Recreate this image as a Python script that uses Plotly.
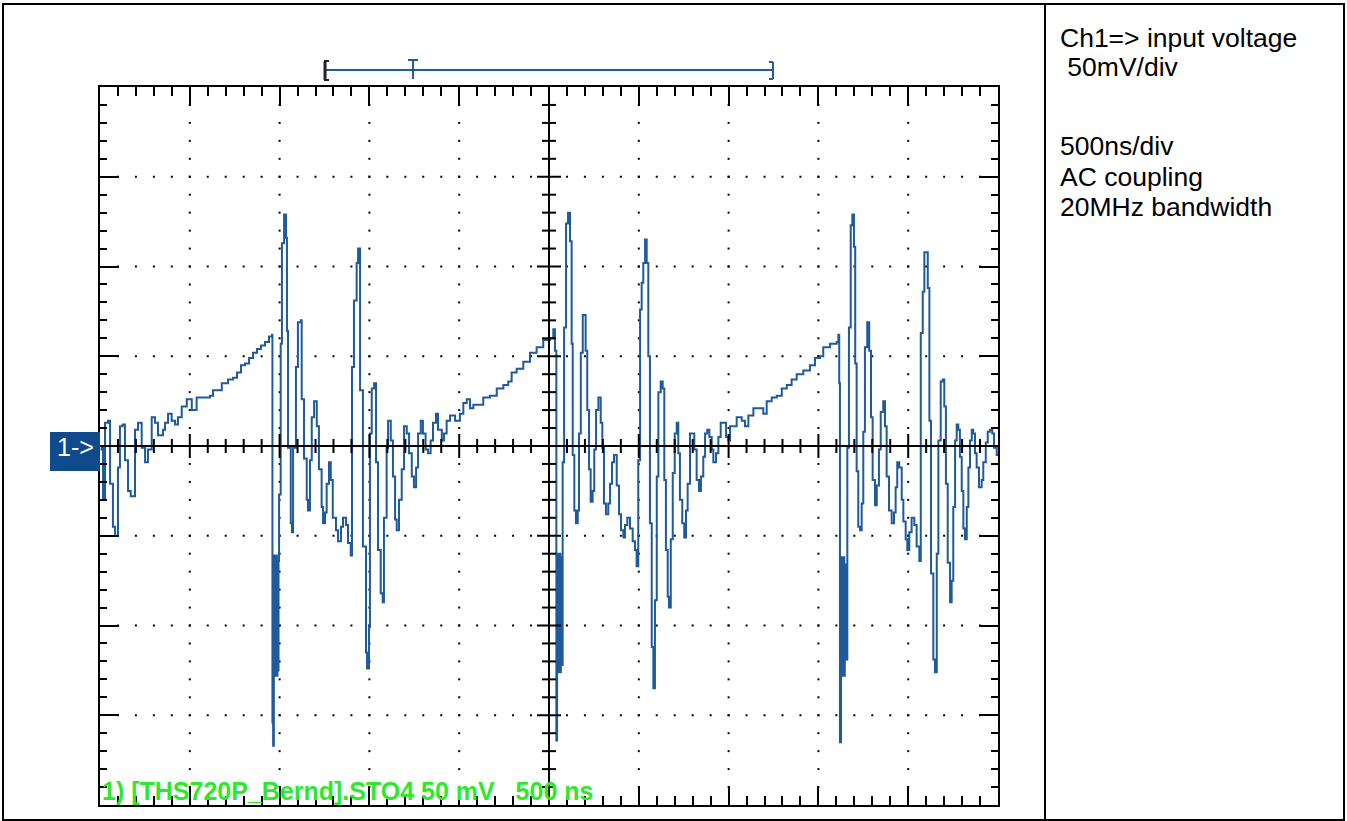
import plotly.graph_objects as go

# ---------------- data ----------------
# channel 1 record: time in ns from the left edge of the screen, voltage in mV
time_ns = [
    3, 9, 17, 28, 45, 56, 72, 84, 100, 111, 126, 139, 156, 171, 195, 212, 232, 251, 267, 288,
    306, 323, 351, 362, 379, 399, 418, 434, 455, 483, 511, 538, 574, 612, 629, 678, 713, 741, 763, 785,
    807, 830, 852, 874, 896, 919, 941, 958,
    960, 964, 968, 970, 973, 976, 979, 982, 985, 988, 991, 994, 997,
    1006, 1013, 1025, 1036, 1041, 1047, 1062, 1069, 1075, 1091, 1102, 1118, 1123, 1136, 1151, 1158, 1169, 1179, 1192, 1207,
    1219, 1234, 1242, 1253, 1262, 1275, 1285, 1296, 1314, 1325, 1342, 1353, 1370, 1381, 1396, 1403, 1414, 1429, 1437, 1448,
    1464, 1481, 1487, 1498, 1503, 1513, 1526, 1537, 1548, 1563, 1574, 1581, 1596, 1604, 1619, 1631, 1643, 1652, 1665, 1680,
    1693, 1708, 1721, 1736, 1748, 1760, 1771, 1786, 1798, 1813, 1826, 1841, 1854, 1871, 1882, 1903, 1915, 1930, 1949, 1977,
    2004, 2023, 2042, 2060, 2079, 2116, 2134, 2171, 2209, 2246, 2273, 2292, 2320, 2357, 2394, 2431, 2468, 2506, 2524, 2533,
    2541, 2545, 2548, 2551, 2554, 2557, 2560, 2563, 2566, 2569, 2576,
    2584, 2595, 2606, 2617, 2626, 2632, 2641, 2650, 2660, 2667, 2677, 2688, 2697, 2704, 2713, 2723, 2732, 2743, 2752, 2762,
    2775, 2788, 2797, 2806, 2817, 2830, 2840, 2851, 2862, 2877, 2890, 2901, 2914, 2923, 2936, 2951, 2966, 2979, 2988, 2997,
    3007, 3016, 3025, 3035, 3044, 3053, 3062, 3072, 3081, 3090, 3100, 3109, 3122, 3133, 3142, 3151, 3161, 3168, 3178, 3189,
    3200, 3211, 3220, 3229, 3242, 3253, 3263, 3272, 3285, 3298, 3309, 3322, 3335, 3346, 3359, 3369, 3381, 3393, 3406, 3415,
    3430, 3443, 3456, 3471, 3486, 3498, 3508, 3526, 3545, 3573, 3591, 3610, 3638, 3675, 3693, 3712, 3740, 3768, 3796, 3824,
    3851, 3879, 3916, 3953, 3981, 4009, 4027, 4065, 4102, 4111, 4116,
    4120, 4126, 4129, 4132, 4135, 4138, 4141, 4144, 4147, 4150, 4161,
    4170, 4180, 4189, 4198, 4205, 4213, 4222, 4232, 4241, 4250, 4259, 4272, 4283, 4293, 4302, 4315, 4325, 4337, 4347, 4361,
    4371, 4380, 4393, 4408, 4421, 4430, 4439, 4450, 4464, 4473, 4486, 4495, 4506, 4519, 4534, 4547, 4562, 4570, 4581, 4590,
    4599, 4609, 4618, 4627, 4640, 4649, 4659, 4668, 4681, 4692, 4701, 4710, 4720, 4733, 4742, 4751, 4761, 4770, 4779, 4788,
    4798, 4807, 4816, 4826, 4835, 4844, 4854, 4862, 4872, 4881, 4894, 4909, 4918, 4932, 4943, 4955, 4968, 4978, 4993, 5000,
]
ch1_mV = [
    -2, -1, -30, 13, 14, -21, -45, -50, -12, 11, 12, -8, -25, -28, 9, 13, -1, -9, -2, 16,
    13, 6, 9, 13, 18, 14, 12, 16, 22, 26, 20, 27, 27, 28, 31, 35, 37, 38, 41, 45,
    46, 49, 52, 54, 56, 58, 61, 62,
    -154, -167, -128, -61, -128, -61, -128, -61, -128, -64, -125, -64, -27,
    57, 113, 129, 116, 64, -1, -43, -48, -1, 44, 69, 70, 26, -7, -30, -36, -8, 16, 25, 11,
    -13, -34, -43, -37, -21, -9, -19, -40, -47, -53, -45, -40, -44, -54, -61, 44, 81, 102, 110, 31,
    -56, -115, -124, -101, 7, 32, 35, -9, -58, -82, -87, -40, -1, 14, 3, -17, -41, -47, -30, -13,
    11, 7, -4, -17, -23, -12, 7, 14, 7, -2, -4, 3, 13, 18, 9, 3, 7, 14, 17, 14,
    18, 24, 26, 21, 23, 23, 27, 28, 32, 34, 36, 41, 43, 47, 52, 55, 59, 60, 65, 53,
    -164, -126, -60, -126, -60, -126, -60, -126, -62, -122, -9,
    66, 124, 130, 114, 57, -5, -36, -43, -36, 7, 52, 73, 73, 53, 20, -13, -31, -25, -2, 20,
    27, 13, -1, -32, -38, -32, -21, -9, -5, -22, -38, -47, -51, -44, -40, -46, -53, -58, -67, -8,
    76, 91, 102, 115, 102, 50, -43, -112, -135, -86, -17, 30, 36, 32, -19, -58, -84, -90, -52, -15,
    7, 13, -4, -30, -43, -51, -36, -21, 7, 7, -2, -19, -25, -17, -6, 7, 9, 5, -2, -9,
    -4, 5, 13, 13, 5, 3, 11, 11, 16, 14, 11, 17, 21, 21, 18, 25, 27, 28, 32, 34,
    37, 40, 42, 45, 49, 50, 55, 57, 58, 62, 35,
    -165, -128, -62, -128, -62, -128, -62, -128, -66, -119, -1,
    66, 123, 129, 111, 46, -14, -45, -47, -32, 8, 55, 69, 53, 16, -19, -33, -22, -2, 19, 25,
    11, -17, -36, -43, -37, -23, -9, -12, -30, -42, -52, -58, -48, -40, -44, -56, -64, 63, 86, 108,
    108, 88, 14, -71, -119, -126, -60, 3, 36, 37, 22, -21, -65, -87, -75, -34, 3, 12, 9, -6,
    -25, -46, -52, -34, -12, 3, 9, 7, -4, -12, -23, -19, -9, 2, 8, 9, 7, -1, -5, -5,
]
assert len(time_ns) == len(ch1_mV)

record_start_ns = 1253
record_end_ns = 3747
trigger_ns = 1743

mv_per_div = 50
ns_per_div = 500
n_xdiv = 10
n_ydiv = 8

status_text = "1) [THS720P_Bernd].STO4\u00a050 mV\u00a0\u00a0\u00a0500 ns"
notes = ["Ch1=> input voltage", "\u00a050mV/div", "500ns/div", "AC coupling", "20MHz bandwidth"]

# ---------------- layout geometry ----------------
FIG_W, FIG_H = 1347, 821
L, T, R, B = 100, 87, 998, 805
PW, PH = R - L, B - T
def px(xp):   # page pixel -> paper x
    return (xp - L) / PW
def py(yp):   # page pixel -> paper y
    return (B - yp) / PH

TRACE = "#1f5a9b"
XMAX = n_xdiv * ns_per_div
YMAX = n_ydiv / 2 * mv_per_div
XC = XMAX / 2
minor_x = ns_per_div / 5
minor_y = mv_per_div / 5

fig = go.Figure()

# graticule dots
dot_x, dot_y = [], []
for i in range(1, n_xdiv):
    xv = i * ns_per_div
    if xv == XC:
        continue
    k = -YMAX + minor_y
    while k < YMAX - 1e-9:
        if abs(k) > 1e-9:
            dot_x.append(xv); dot_y.append(k)
        k += minor_y
for j in range(1, n_ydiv):
    yv = -YMAX + j * mv_per_div
    if abs(yv) < 1e-9:
        continue
    k = minor_x
    while k < XMAX - 1e-9:
        if abs(k - XC) > 1e-9:
            dot_x.append(k); dot_y.append(yv)
        k += minor_x
fig.add_trace(go.Scatter(x=dot_x, y=dot_y, mode="markers", hoverinfo="skip",
                         marker=dict(symbol="square", size=2, color="black", line=dict(width=0))))

# channel trace
fig.add_trace(go.Scatter(x=time_ns, y=ch1_mV, mode="lines",
                         line=dict(color=TRACE, width=2, shape="hv"), hoverinfo="skip"))

shapes = []
# centre cross-hair
shapes.append(dict(type="line", xref="x", yref="y", x0=0, x1=XMAX, y0=0, y1=0,
                   line=dict(color="black", width=2)))
shapes.append(dict(type="line", xref="x", yref="y", x0=XC, x1=XC, y0=-YMAX, y1=YMAX,
                   line=dict(color="black", width=2)))
# ticks on centre axes
for i in range(1, n_xdiv * 5):
    xv = i * minor_x
    half = 12 if i % 5 == 0 else 7
    shapes.append(dict(type="line", xref="x", yref="y", ysizemode="pixel", yanchor=0,
                       x0=xv, x1=xv, y0=-half, y1=half, line=dict(color="black", width=2)))
for j in range(1, n_ydiv * 5):
    yv = -YMAX + j * minor_y
    half = 12 if j % 5 == 0 else 7
    shapes.append(dict(type="line", xref="x", yref="y", xsizemode="pixel", xanchor=XC,
                       x0=-half, x1=half, y0=yv, y1=yv, line=dict(color="black", width=2)))

# record window bracket with trigger marker (above the graticule)
shapes.append(dict(type="line", xref="x", yref="paper", x0=record_start_ns, x1=record_end_ns,
                   y0=py(70), y1=py(70), line=dict(color=TRACE, width=2)))
shapes.append(dict(type="line", xref="x", yref="paper", x0=record_start_ns, x1=record_start_ns,
                   y0=py(61), y1=py(80), line=dict(color="#222222", width=3)))
shapes.append(dict(type="line", xref="x", yref="paper", xsizemode="pixel", xanchor=record_start_ns,
                   x0=-1, x1=4, y0=py(61), y1=py(61), line=dict(color="#222222", width=2)))
shapes.append(dict(type="line", xref="x", yref="paper", xsizemode="pixel", xanchor=record_start_ns,
                   x0=-1, x1=4, y0=py(80), y1=py(80), line=dict(color="#222222", width=2)))
shapes.append(dict(type="line", xref="x", yref="paper", x0=record_end_ns, x1=record_end_ns,
                   y0=py(62), y1=py(79), line=dict(color=TRACE, width=2)))
shapes.append(dict(type="line", xref="x", yref="paper", xsizemode="pixel", xanchor=record_end_ns,
                   x0=-4, x1=0, y0=py(62), y1=py(62), line=dict(color=TRACE, width=2)))
shapes.append(dict(type="line", xref="x", yref="paper", xsizemode="pixel", xanchor=record_end_ns,
                   x0=-4, x1=0, y0=py(79), y1=py(79), line=dict(color=TRACE, width=2)))
shapes.append(dict(type="line", xref="x", yref="paper", x0=trigger_ns, x1=trigger_ns,
                   y0=py(60), y1=py(79), line=dict(color=TRACE, width=2)))
shapes.append(dict(type="line", xref="x", yref="paper", xsizemode="pixel", xanchor=trigger_ns,
                   x0=-5, x1=5, y0=py(60), y1=py(60), line=dict(color=TRACE, width=2)))

# channel-1 ground marker box
shapes.append(dict(type="rect", xref="paper", yref="paper", x0=px(50), x1=px(100),
                   y0=py(471), y1=py(432), fillcolor="#0f4a8c", line=dict(width=0), layer="above"))

# outer frame and side panel divider
shapes.append(dict(type="rect", xref="paper", yref="paper", x0=px(3), x1=px(1344),
                   y0=py(820), y1=py(4), line=dict(color="black", width=2)))
shapes.append(dict(type="line", xref="paper", yref="paper", x0=px(1045), x1=px(1045),
                   y0=py(820), y1=py(4), line=dict(color="black", width=2)))

annotations = []
annotations.append(dict(xref="paper", yref="paper", x=px(75.5), y=py(447), text="1->",
                        showarrow=False, xanchor="center", yanchor="middle",
                        font=dict(family="Liberation Sans, Arial, sans-serif", size=25, color="white")))
annotations.append(dict(xref="paper", yref="paper", x=px(100), y=py(791), text="<b>" + status_text + "</b>",
                        showarrow=False, xanchor="left", yanchor="middle",
                        font=dict(family="Liberation Sans, Arial, sans-serif", size=25, color="#2ee82e")))
note_y = [38, 67, 146, 177, 207]
for txt, yy in zip(notes, note_y):
    annotations.append(dict(xref="paper", yref="paper", x=px(1058), y=py(yy), text=txt,
                            showarrow=False, xanchor="left", yanchor="middle",
                            font=dict(family="Liberation Sans, Arial, sans-serif", size=26.5, color="black")))

axis_common = dict(showgrid=False, zeroline=False, showticklabels=False, ticks="inside",
                   ticklen=19, tickwidth=2, tickcolor="black", showline=True, linecolor="black",
                   linewidth=2, mirror="ticks", fixedrange=True)
fig.update_layout(
    width=FIG_W, height=FIG_H, autosize=False,
    margin=dict(l=L, r=FIG_W - R, t=T, b=FIG_H - B, pad=0),
    paper_bgcolor="white", plot_bgcolor="white", showlegend=False,
    xaxis=dict(range=[0, XMAX], dtick=ns_per_div, tick0=0,
               minor=dict(ticks="inside", ticklen=9, tickwidth=2, tickcolor="black",
                          dtick=minor_x, tick0=0, showgrid=False), **axis_common),
    yaxis=dict(range=[-YMAX, YMAX], dtick=mv_per_div, tick0=0,
               minor=dict(ticks="inside", ticklen=7, tickwidth=2, tickcolor="black",
                          dtick=minor_y, tick0=0, showgrid=False), **axis_common),
    shapes=shapes, annotations=annotations,
)

fig.write_html("out.html", config={"displayModeBar": False, "staticPlot": True},
               post_script="document.body.style.margin='0';document.body.style.overflow='hidden';")
